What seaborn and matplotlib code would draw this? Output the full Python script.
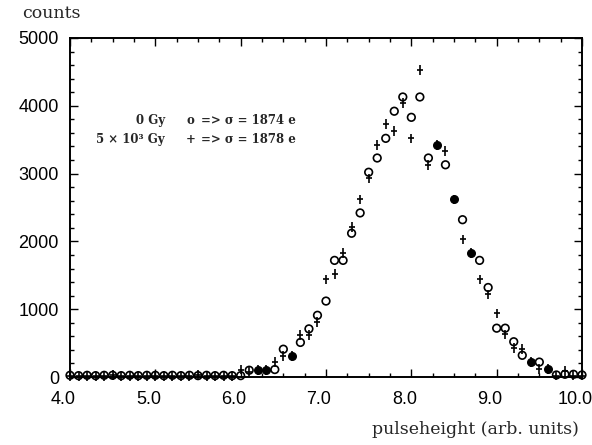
import matplotlib
matplotlib.use("Agg")
import matplotlib.pyplot as plt
import matplotlib.transforms as mtransforms
from matplotlib.ticker import MultipleLocator
import numpy as np
import pandas as pd
import seaborn as sns

# ---------------------------------------------------------------------------
# Data
# ---------------------------------------------------------------------------

pulseheight = [4.0, 4.1, 4.2, 4.3, 4.4, 4.5, 4.6, 4.7, 4.8, 4.9,
               5.0, 5.1, 5.2, 5.3, 5.4, 5.5, 5.6, 5.7, 5.8, 5.9,
               6.0, 6.1, 6.2, 6.3, 6.4, 6.5, 6.6, 6.7, 6.8, 6.9,
               7.0, 7.1, 7.2, 7.3, 7.4, 7.5, 7.6, 7.7, 7.8, 7.9,
               8.0, 8.1, 8.2, 8.3, 8.4, 8.5, 8.6, 8.7, 8.8, 8.9,
               9.0, 9.1, 9.2, 9.3, 9.4, 9.5, 9.6, 9.7, 9.8, 9.9,
               10.0]

counts_0gy = [25, 20, 25, 20, 25, 25, 20, 25, 20, 25,
              25, 20, 25, 20, 25, 20, 25, 20, 25, 20,
              20, 100, 100, 100, 110, 410, 310, 510, 710, 910,
              1120, 1720, 1720, 2120, 2420, 3020, 3230, 3520, 3920, 4130,
              3830, 4130, 3230, 3420, 3130, 2620, 2320, 1830, 1720, 1320,
              720, 720, 520, 320, 220, 220, 120, 30, 40, 40,
              30]

counts_5kgy = [10, 10, 10, 10, 10, 30, 10, 10, 10, 10,
               10, 10, 10, 10, 10, 30, 10, 10, 10, 10,
               110, 80, 100, 100, 220, 310, 310, 620, 620, 810,
               1440, 1520, 1830, 2210, 2620, 2930, 3420, 3730, 3630, 4040,
               3520, 4530, 3130, 3420, 3330, 2620, 2030, 1830, 1440, 1220,
               940, 630, 430, 410, 220, 120, 120, 20, 90, 20,
               20]

legend_dose = ["0 Gy", "5 × 10³ Gy"]
legend_mark = ["o", "+"]
legend_sigma = ["=> σ = 1874 e", "=> σ = 1878 e"]

x_ticks = [4.0, 5.0, 6.0, 7.0, 8.0, 9.0, 10.0]
x_ticklabels = ["4.0", "5.0", "6.0", "7.0", "8.0", "9.0", "10.0"]
y_ticks = [0, 1000, 2000, 3000, 4000, 5000]

# ---------------------------------------------------------------------------
# Figure
# ---------------------------------------------------------------------------

sns.set_theme(style="ticks")
plt.rcParams["font.family"] = ["Liberation Sans", "DejaVu Sans"]

df = pd.DataFrame({"pulseheight": pulseheight,
                   "c0": counts_0gy,
                   "c5": counts_5kgy})
df["both"] = df["c0"] == df["c5"]

fig = plt.figure(figsize=(5.92, 4.45), dpi=100)
ax = fig.add_axes([70 / 592, 1 - 377 / 445, 512 / 592, 339 / 445])

# open circles: 0 Gy
sns.scatterplot(data=df[~df["both"]], x="pulseheight", y="c0", ax=ax,
                marker="o", s=30, facecolor="none", edgecolor="black",
                linewidth=1.2, clip_on=False, zorder=3)
# filled circles where both series coincide
sns.scatterplot(data=df[df["both"]], x="pulseheight", y="c0", ax=ax,
                marker="o", s=30, color="black", edgecolor="black",
                linewidth=1.0, clip_on=False, zorder=3)
# plus markers: 5e3 Gy
ax.errorbar(df["pulseheight"], df["c5"], yerr=70, fmt="_", color="black",
            markersize=4, markeredgewidth=1.2, elinewidth=1.2, capsize=0,
            clip_on=False, zorder=4)

for i in range(2):
    y = 3776 - i * 266
    ax.text(5.11, y, legend_dose[i], ha="right", va="center",
            family="DejaVu Serif", fontsize=8.5, fontweight="bold")
    ax.text(5.41, y, legend_mark[i], ha="center", va="center",
            family="DejaVu Serif", fontsize=8.5, fontweight="bold")
    ax.text(5.53, y, legend_sigma[i], ha="left", va="center",
            family="DejaVu Serif", fontsize=8.5, fontweight="bold")

ax.set_xlim(4.0, 10.0)
ax.set_ylim(0, 5000)
ax.set_xticks(x_ticks)
ax.set_xticklabels(x_ticklabels)
ax.set_yticks(y_ticks)
ax.xaxis.set_minor_locator(MultipleLocator(0.25))
ax.yaxis.set_minor_locator(MultipleLocator(200))
ax.tick_params(which="both", direction="in", top=True, right=True,
               colors="black", labelsize=13)
ax.tick_params(which="major", length=6, width=1.0)
ax.tick_params(which="minor", length=3, width=1.0)
ax.tick_params(axis="x", which="major", pad=10)
ax.tick_params(axis="y", which="major", pad=8)
ax.set_xlabel("")
ax.set_ylabel("")
for sp in ax.spines.values():
    sp.set_color("black")
    sp.set_linewidth(1.4)

shift = mtransforms.ScaledTranslation(-7 / 100, 0, fig.dpi_scale_trans)
for lab in ax.get_xticklabels():
    lab.set_transform(lab.get_transform() + shift)

fig.text(22 / 592, 1 - 14 / 445, "counts", ha="left", va="center",
         family="DejaVu Serif", fontsize=12.5)
fig.text(579 / 592, 1 - 429 / 445, "pulseheight (arb. units)", ha="right",
         va="center", family="DejaVu Serif", fontsize=12.5)

fig.savefig("out.png", dpi=100)
